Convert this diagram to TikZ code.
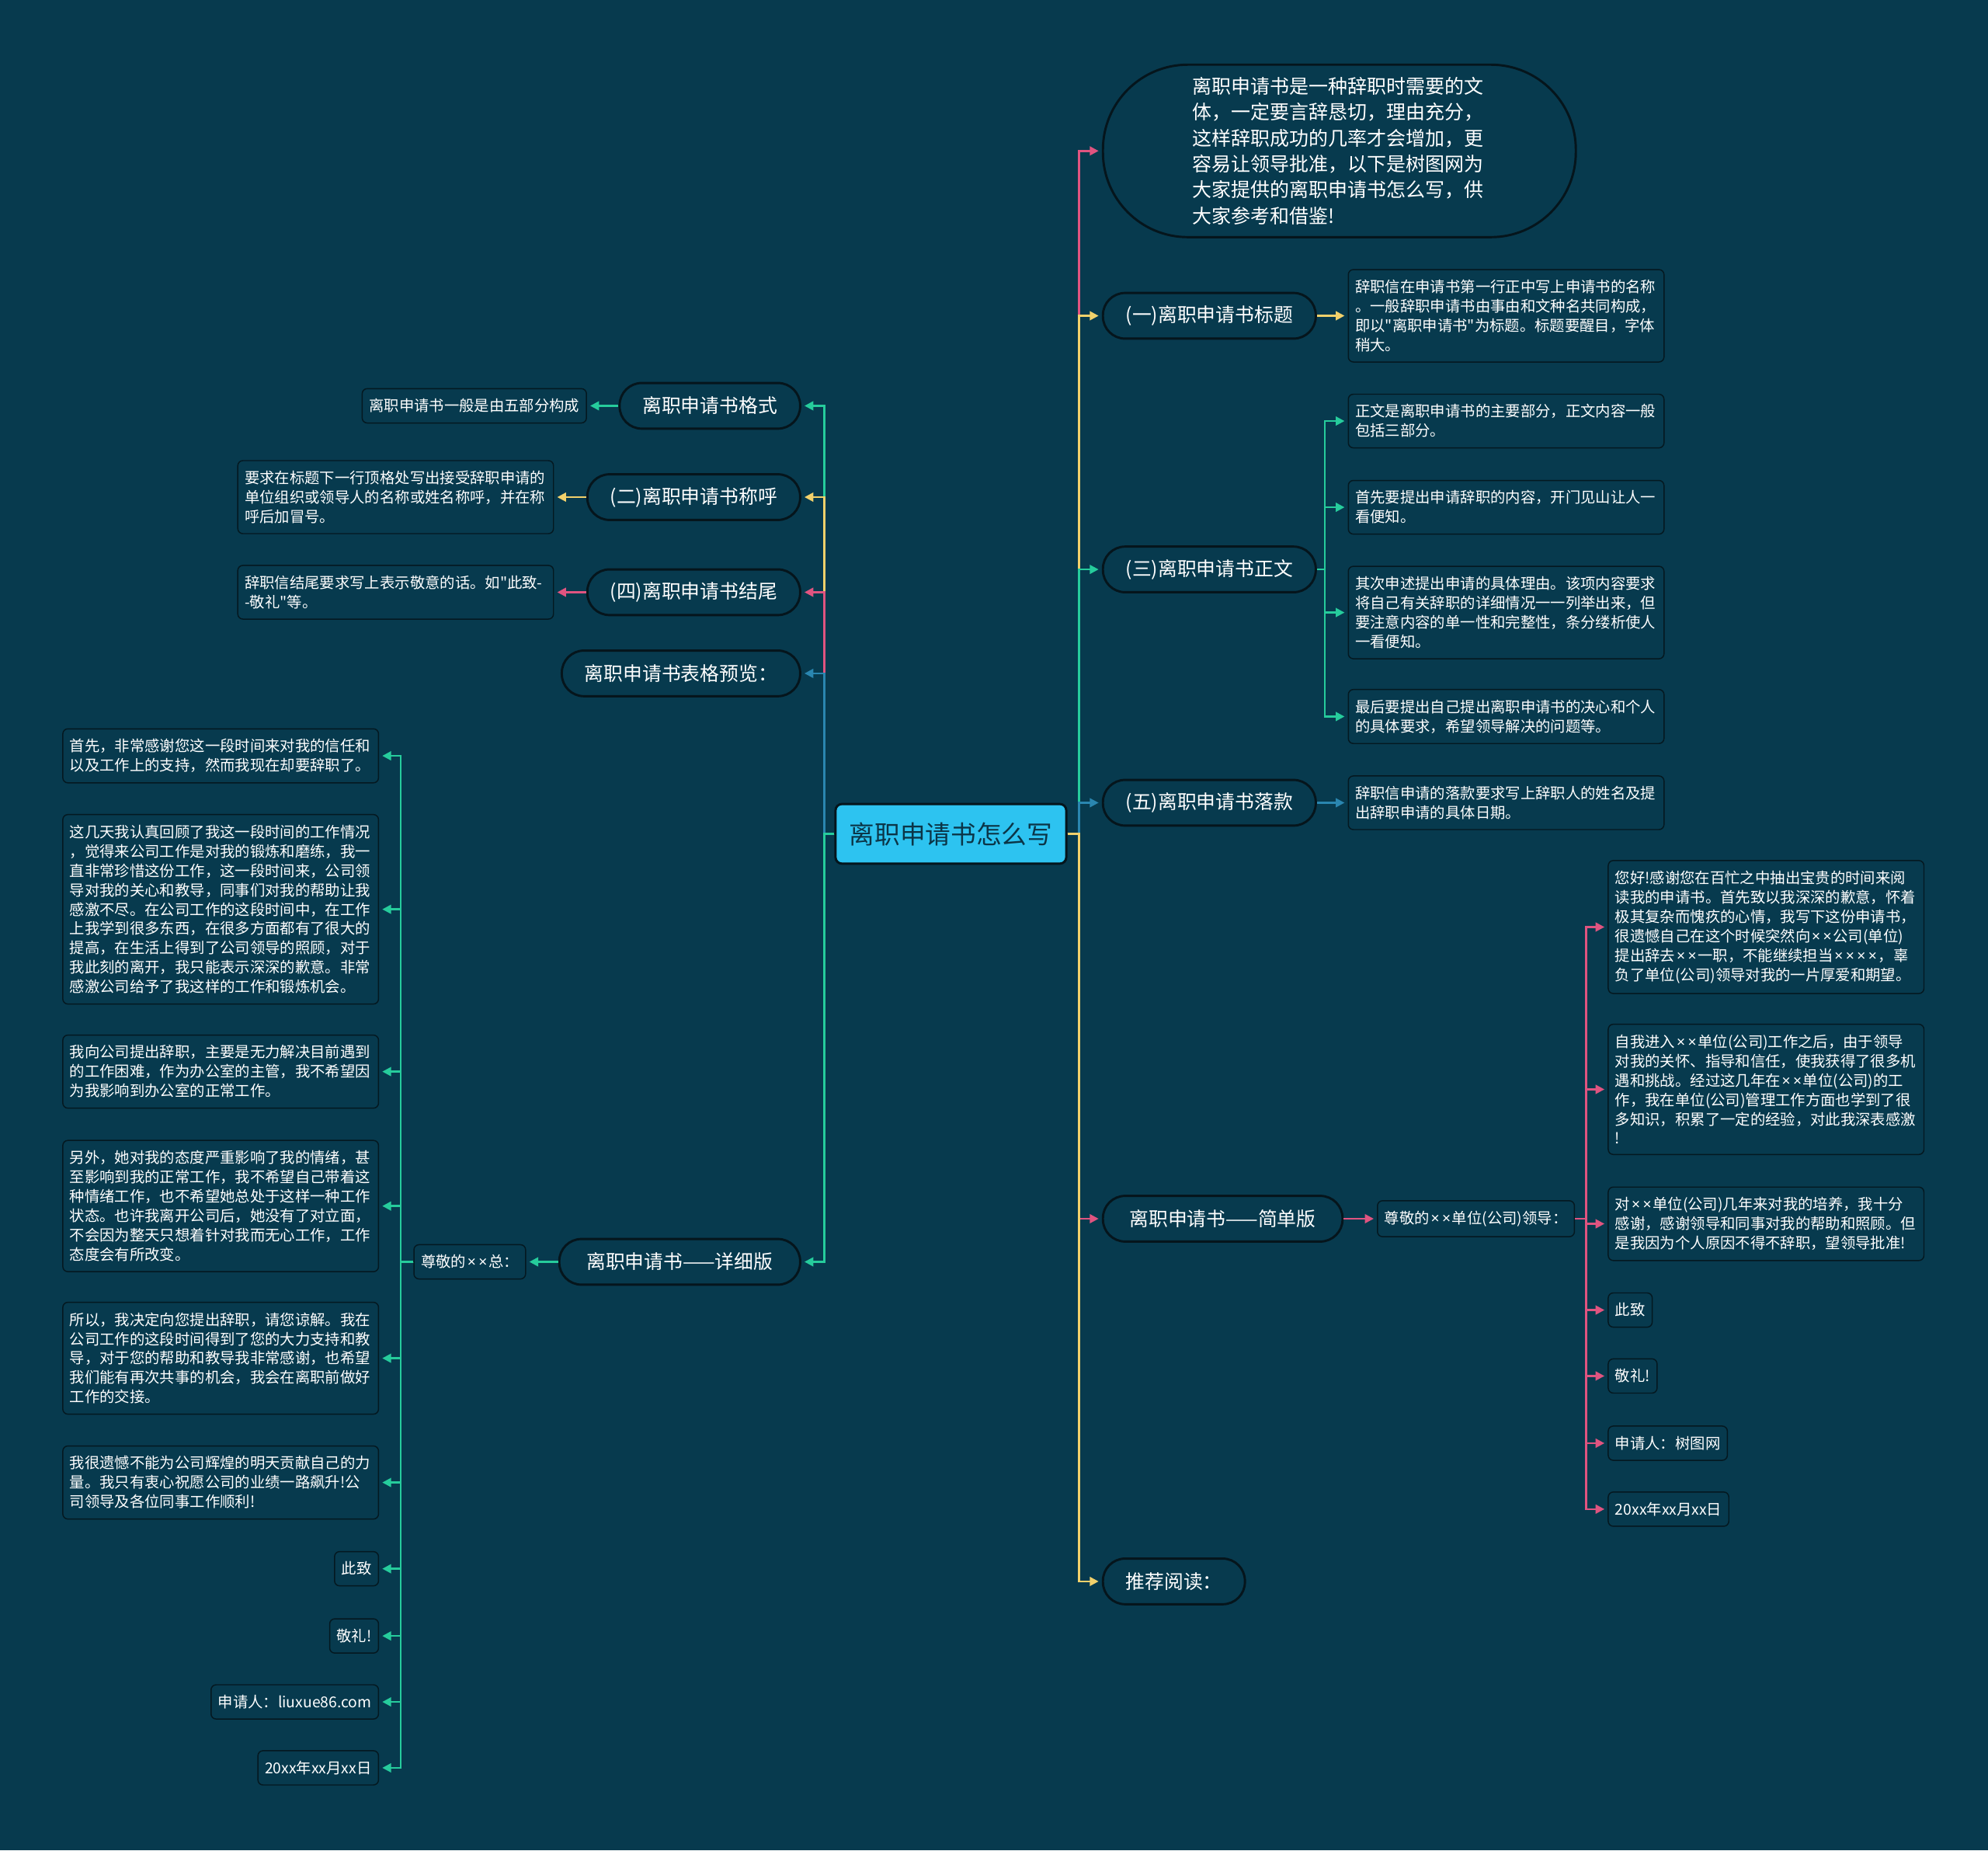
\documentclass[tikz,border=0pt]{standalone}
\usepackage{fontspec}
\setmainfont{Noto Sans CJK SC}
\newfontfamily\cjkf{Noto Sans CJK SC}
\newfontfamily\latinf{Noto Sans}
\usetikzlibrary{arrows.meta}
\definecolor{bgc}{HTML}{073A4E}
\definecolor{pinkc}{HTML}{E05480}
\definecolor{yellowc}{HTML}{F2D16B}
\definecolor{greenc}{HTML}{26CC9C}
\definecolor{bluec}{HTML}{2A86B0}
\definecolor{centerfill}{HTML}{2DC3F0}
\definecolor{centertext}{HTML}{0B3547}
\definecolor{stadborder}{HTML}{05151C}
\definecolor{leafborder}{HTML}{041820}
\newcommand\mx{{\kern0.09em\latinf ×\kern0.09em}}
\newcommand\myfleaf{\cjkf\fontsize{11.85pt}{15.3pt}\selectfont\exhyphenpenalty=10000 }
\newcommand\myfstad{\cjkf\fontsize{15.2pt}{18pt}\selectfont}
\newcommand\myfintro{\cjkf\fontsize{15.3pt}{20.4pt}\selectfont}
\newcommand\myfcenter{\cjkf\fontsize{20pt}{24pt}\selectfont}
\tikzset{
  leaf/.style={draw=leafborder, line width=0.9pt, fill=bgc, rounded corners=4pt, text=white, font=\myfleaf, inner xsep=5.5pt, inner ysep=8pt, minimum height=27pt, align=left},
  leafw/.style={leaf, text width=238pt},
  stad/.style={draw=stadborder, line width=1.8pt, fill=bgc, rounded corners=17.5pt, minimum height=36pt, inner xsep=18pt, text=white, font=\myfstad},
  intro/.style={draw=stadborder, line width=1.8pt, fill=bgc, rounded corners=67pt, minimum height=136pt, minimum width=373pt, text width=232pt, align=left, text=white, font=\myfintro},
  centernode/.style={draw=stadborder, line width=1.8pt, fill=centerfill, rounded corners=5pt, minimum width=182pt, minimum height=47pt, text=centertext, font=\myfcenter},
  conn/.style={line width=1.6pt, -{Triangle[length=7pt,width=7pt]}, shorten >=2.5pt}
}
\begin{document}
\begin{tikzpicture}[x=1pt,y=-1pt]
\fill[bgc] (0,0) rectangle (1568,1459);
\useasboundingbox (0,0) rectangle (1568,1459);

% center
\node[centernode] (c) at (750,657.5) {离职申请书怎么写};
\coordinate (rt) at (851,657.5);
\coordinate (lt) at (650,657.5);

% ---------- right side ----------
\node[intro, anchor=west] (intro) at (869,119) {离职申请书是一种辞职时需要的文\\体，一定要言辞恳切，理由充分，\\这样辞职成功的几率才会增加，更\\容易让领导批准，以下是树图网为\\大家提供的离职申请书怎么写，供\\大家参考和借鉴!};

\node[stad, anchor=west] (b1) at (869,249) {(一)离职申请书标题};
\node[leafw, anchor=west] (b1a) at (1063,249) {辞职信在申请书第一行正中写上申请书的名称\\。一般辞职申请书由事由和文种名共同构成，\\即以"离职申请书"为标题。标题要醒目，字体\\稍大。};

\node[stad, anchor=west] (b3) at (869,449) {(三)离职申请书正文};
\coordinate (t3) at (1045,449);
\node[leafw, anchor=west] (b3a) at (1063,332) {正文是离职申请书的主要部分，正文内容一般\\包括三部分。};
\node[leafw, anchor=west] (b3b) at (1063,400) {首先要提出申请辞职的内容，开门见山让人一\\看便知。};
\node[leafw, anchor=west] (b3c) at (1063,483) {其次申述提出申请的具体理由。该项内容要求\\将自己有关辞职的详细情况一一列举出来，但\\要注意内容的单一性和完整性，条分缕析使人\\一看便知。};
\node[leafw, anchor=west] (b3d) at (1063,565) {最后要提出自己提出离职申请书的决心和个人\\的具体要求，希望领导解决的问题等。};

\node[stad, anchor=west] (b5) at (869,633) {(五)离职申请书落款};
\node[leafw, anchor=west] (b5a) at (1063,633) {辞职信申请的落款要求写上辞职人的姓名及提\\出辞职申请的具体日期。};

\node[stad, anchor=west, minimum width=189pt] (bs) at (869,961) {离职申请书——简单版};
\node[leaf, anchor=west] (bsa) at (1086,961) {尊敬的\mx\mx 单位(公司)领导：};
\coordinate (ts) at (1251,961);
\node[leafw, anchor=west] (s1) at (1268,731) {您好!感谢您在百忙之中抽出宝贵的时间来阅\\读我的申请书。首先致以我深深的歉意，怀着\\极其复杂而愧疚的心情，我写下这份申请书，\\很遗憾自己在这个时候突然向\mx\mx 公司(单位)\\提出辞去\mx\mx 一职，不能继续担当\mx\mx\mx\mx ，辜\\负了单位(公司)领导对我的一片厚爱和期望。};
\node[leafw, anchor=west] (s2) at (1268,859) {自我进入\mx\mx 单位(公司)工作之后，由于领导\\对我的关怀、指导和信任，使我获得了很多机\\遇和挑战。经过这几年在\mx\mx 单位(公司)的工\\作，我在单位(公司)管理工作方面也学到了很\\多知识，积累了一定的经验，对此我深表感激\\!};
\node[leafw, anchor=west] (s3) at (1268,965) {对\mx\mx 单位(公司)几年来对我的培养，我十分\\感谢，感谢领导和同事对我的帮助和照顾。但\\是我因为个人原因不得不辞职，望领导批准!};
\node[leaf, anchor=west] (s4) at (1268,1033) {此致};
\node[leaf, anchor=west] (s5) at (1268,1085) {敬礼!};
\node[leaf, anchor=west] (s6) at (1268,1138) {申请人：树图网};
\node[leaf, anchor=west] (s7) at (1268,1190) {20xx年xx月xx日};

\node[stad, anchor=west] (br) at (869,1247) {推荐阅读：};

% ---------- left side ----------
\node[stad, anchor=east] (l1) at (632,320) {离职申请书格式};
\node[leaf, anchor=east] (l1a) at (463,320) {离职申请书一般是由五部分构成};
\node[stad, anchor=east] (l2) at (632,392) {(二)离职申请书称呼};
\node[leafw, anchor=east] (l2a) at (437,392) {要求在标题下一行顶格处写出接受辞职申请的\\单位组织或领导人的名称或姓名称呼，并在称\\呼后加冒号。};
\node[stad, anchor=east] (l4) at (632,467) {(四)离职申请书结尾};
\node[leafw, anchor=east] (l4a) at (437,467) {辞职信结尾要求写上表示敬意的话。如"此致-\\-敬礼"等。};
\node[stad, anchor=east] (lp) at (632,531) {离职申请书表格预览：};

\node[stad, anchor=east, minimum width=190pt] (ld) at (632,995) {离职申请书——详细版};
\node[leaf, anchor=east] (lda) at (415,995) {尊敬的\mx\mx 总：};
\coordinate (td) at (316,995);
\node[leafw, anchor=east] (d1) at (299,596) {首先，非常感谢您这一段时间来对我的信任和\\以及工作上的支持，然而我现在却要辞职了。};
\node[leafw, anchor=east] (d2) at (299,717) {这几天我认真回顾了我这一段时间的工作情况\\，觉得来公司工作是对我的锻炼和磨练，我一\\直非常珍惜这份工作，这一段时间来，公司领\\导对我的关心和教导，同事们对我的帮助让我\\感激不尽。在公司工作的这段时间中，在工作\\上我学到很多东西，在很多方面都有了很大的\\提高，在生活上得到了公司领导的照顾，对于\\我此刻的离开，我只能表示深深的歉意。非常\\感激公司给予了我这样的工作和锻炼机会。};
\node[leafw, anchor=east] (d3) at (299,845) {我向公司提出辞职，主要是无力解决目前遇到\\的工作困难，作为办公室的主管，我不希望因\\为我影响到办公室的正常工作。};
\node[leafw, anchor=east] (d4) at (299,951) {另外，她对我的态度严重影响了我的情绪，甚\\至影响到我的正常工作，我不希望自己带着这\\种情绪工作，也不希望她总处于这样一种工作\\状态。也许我离开公司后，她没有了对立面，\\不会因为整天只想着针对我而无心工作，工作\\态度会有所改变。};
\node[leafw, anchor=east] (d5) at (299,1071) {所以，我决定向您提出辞职，请您谅解。我在\\公司工作的这段时间得到了您的大力支持和教\\导，对于您的帮助和教导我非常感谢，也希望\\我们能有再次共事的机会，我会在离职前做好\\工作的交接。};
\node[leafw, anchor=east] (d6) at (299,1169) {我很遗憾不能为公司辉煌的明天贡献自己的力\\量。我只有衷心祝愿公司的业绩一路飙升!公\\司领导及各位同事工作顺利!};
\node[leaf, anchor=east] (d7) at (299,1237) {此致};
\node[leaf, anchor=east] (d8) at (299,1290) {敬礼!};
\node[leaf, anchor=east] (d9) at (299,1342) {申请人：liuxue86.com};
\node[leaf, anchor=east] (d10) at (299,1394) {20xx年xx月xx日};

% ---------- connectors: right trunk ----------
\draw[conn, pinkc] (c.east) -- (rt) |- (intro.west);
\draw[conn, yellowc] (c.east) -- (rt) |- (b1.west);
\draw[conn, greenc] (c.east) -- (rt) |- (b3.west);
\draw[conn, bluec] (c.east) -- (rt) |- (b5.west);
\draw[conn, pinkc] (c.east) -- (rt) |- (bs.west);
\draw[conn, yellowc] (c.east) -- (rt) |- (br.west);

\draw[conn, yellowc] (b1) -- (b1a);
\foreach \n in {b3a,b3b,b3c,b3d} \draw[conn, greenc] (b3.east) -- (t3) |- (\n.west);
\draw[conn, bluec] (b5) -- (b5a);
\draw[conn, pinkc] (bs) -- (bsa);
\foreach \n in {s1,s2,s3,s4,s5,s6,s7} \draw[conn, pinkc] (bsa.east) -- (ts) |- (\n.west);

% ---------- connectors: left trunk ----------
\draw[conn, greenc] (c.west) -- (lt) |- (l1.east);
\draw[conn, yellowc] (c.west) -- (lt) |- (l2.east);
\draw[conn, pinkc] (c.west) -- (lt) |- (l4.east);
\draw[conn, bluec] (c.west) -- (lt) |- (lp.east);
\draw[conn, greenc] (c.west) -- (lt) |- (ld.east);

\draw[conn, greenc] (l1) -- (l1a);
\draw[conn, yellowc] (l2) -- (l2a);
\draw[conn, pinkc] (l4) -- (l4a);
\draw[conn, greenc] (ld) -- (lda);
\foreach \n in {d1,d2,d3,d4,d5,d6,d7,d8,d9,d10} \draw[conn, greenc] (lda.west) -- (td) |- (\n.east);
\end{tikzpicture}
\end{document}
